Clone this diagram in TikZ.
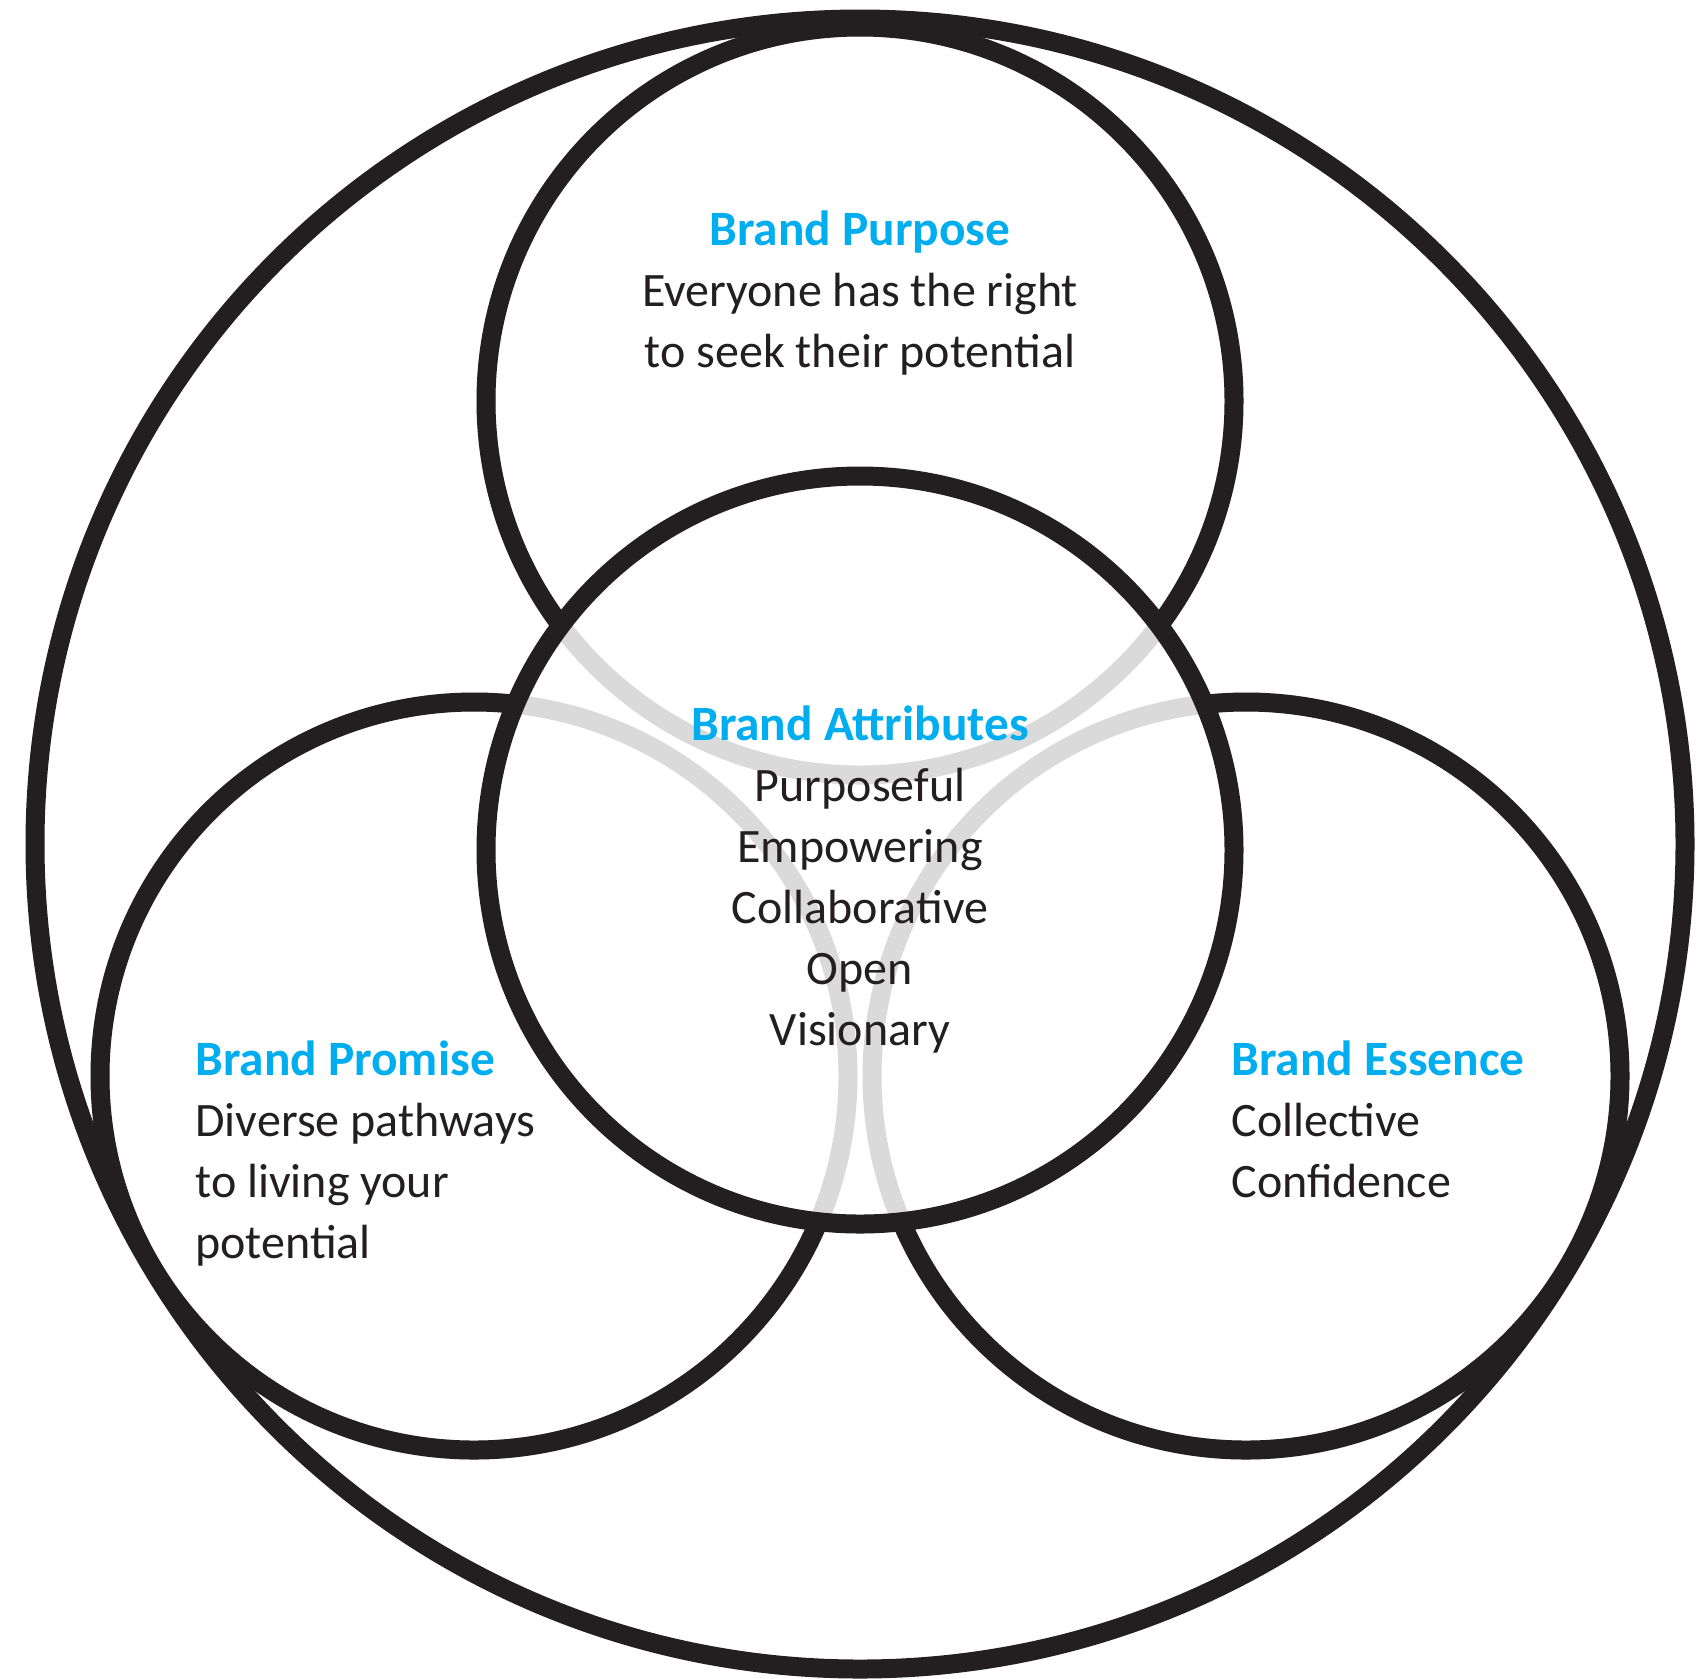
\documentclass[tikz,border=0pt]{standalone}
\usepackage{fontspec}
\setmainfont{Carlito}
\definecolor{ink}{HTML}{231F20}
\definecolor{brandblue}{HTML}{00AEEF}
\definecolor{ghost}{HTML}{DADADA}
\newcommand{\bhead}[1]{{\fontsize{24.7}{30.5}\selectfont\bfseries\color{brandblue}#1}}
\begin{document}
\begin{tikzpicture}[x=0.5pt,y=-0.5pt,
  ring/.style={draw=ink,line width=9.5pt},
  ghostring/.style={draw=ghost,line width=9.5pt},
  blk/.style={font=\fontsize{24}{30.5}\selectfont,text=ink,inner sep=0pt}]
\path[use as bounding box] (0,0) rectangle (1696,1678);
\coordinate (cT) at (860,401);
\coordinate (cL) at (474,1076);
\coordinate (cR) at (1246,1076);
\coordinate (cM) at (860,850);
\coordinate (cO) at (860,844);
% hidden parts of the outer three circles
\draw[ghostring] (cT) circle[radius=374];
\draw[ghostring] (cL) circle[radius=374];
\draw[ghostring] (cR) circle[radius=374];
\begin{scope}[even odd rule]
  \clip (0,0) rectangle (1696,1678) (cM) circle[radius=374];
  \draw[ring] (cT) circle[radius=374];
  \draw[ring] (cL) circle[radius=374];
  \draw[ring] (cR) circle[radius=374];
\end{scope}
\draw[ring] (cM) circle[radius=374];
\draw[ring] (cO) circle[radius=825];
% texts (anchor = baseline of last line)
\node[blk,align=center,anchor=base] (purpose) at (860,367)
  {\bhead{Brand Purpose}\\Everyone has the right\\to seek their potential};
\node[blk,align=center,anchor=base] (attributes) at (860,1045)
  {\bhead{Brand Attributes}\\Purposeful\\Empowering\\Collaborative\\Open\\Visionary};
\node[blk,align=left,anchor=base west] (promise) at (195,1258)
  {\bhead{Brand Promise}\\Diverse pathways\\to living your\\potential};
\node[blk,align=left,anchor=base west] (essence) at (1231,1197)
  {\bhead{Brand Essence}\\Collective\\Confidence};
\end{tikzpicture}
\end{document}
